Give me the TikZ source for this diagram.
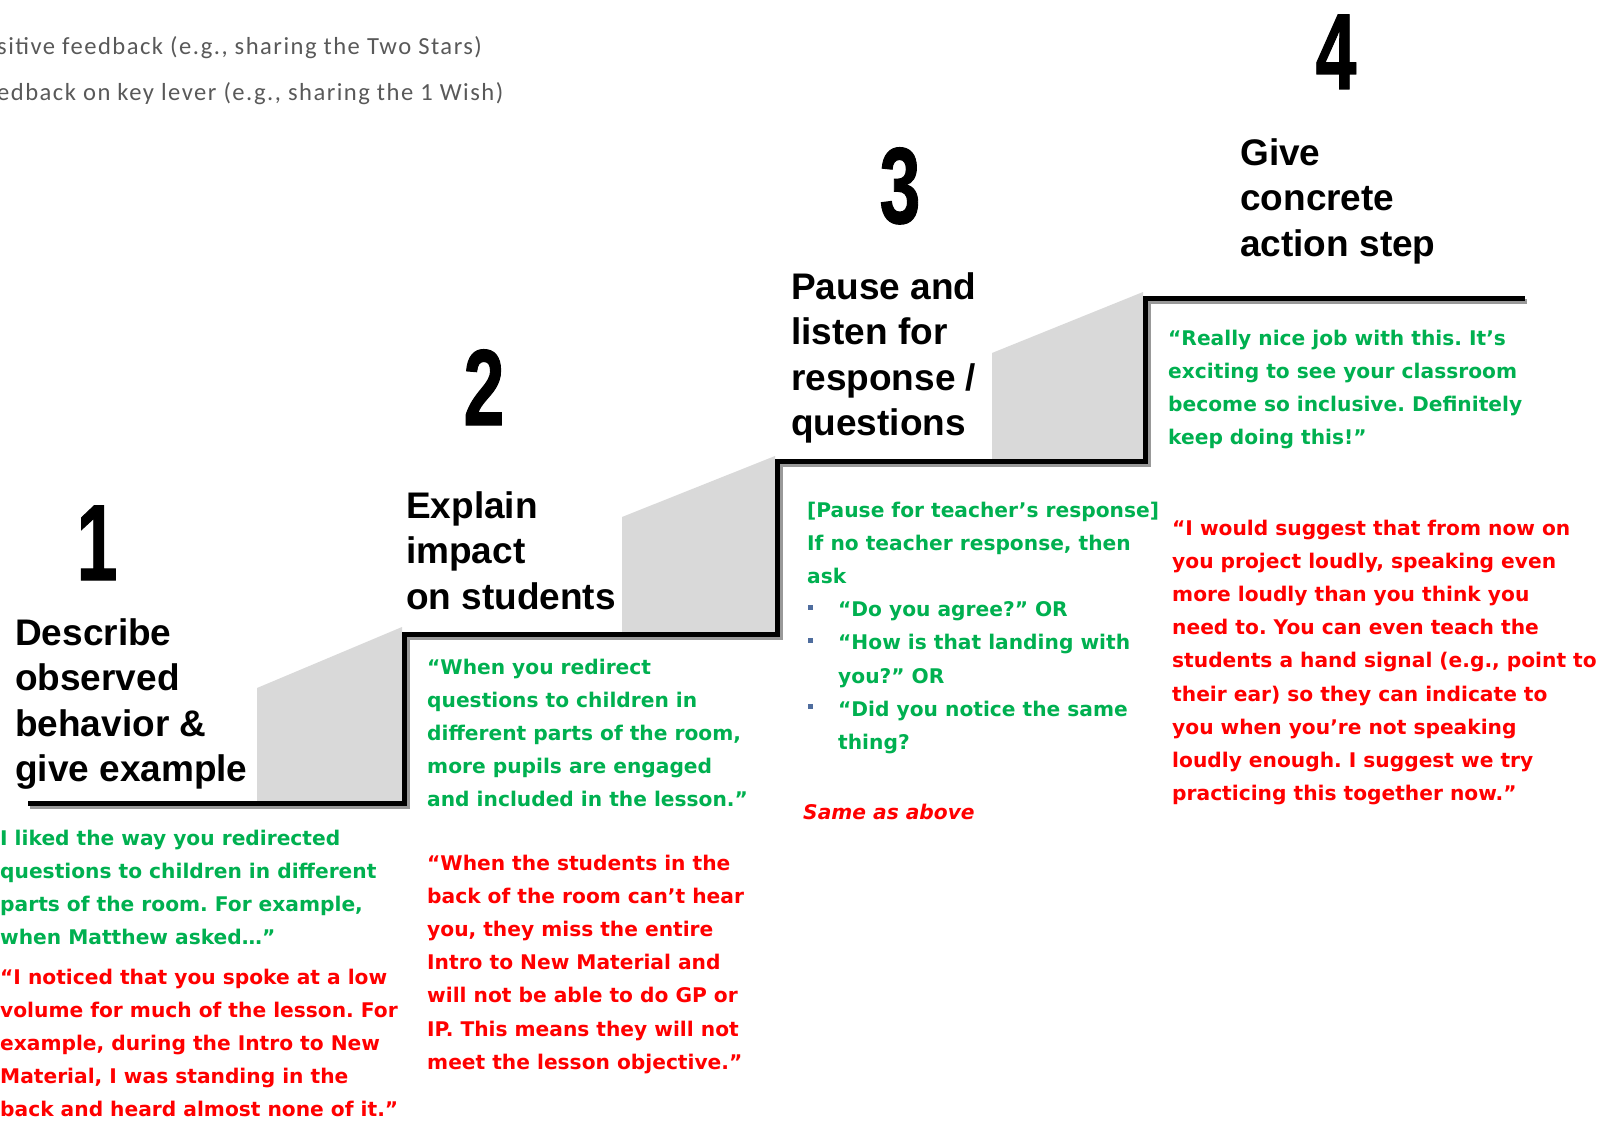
\documentclass[tikz,border=0pt]{standalone}
\usepackage{fontspec}
\usepackage{graphicx}
\setmainfont{Liberation Sans}
\newfontfamily\headfont{Liberation Sans}
\newfontfamily\numfont{Liberation Sans}[BoldFeatures={FakeBold=1.2}]
\newfontfamily\bodyfont{DejaVu Sans}
\newfontfamily\notefont{Carlito}[LetterSpace=6]
\frenchspacing

\definecolor{okgreen}{HTML}{00B050}
\definecolor{okred}{HTML}{FF0000}
\definecolor{stepgrey}{HTML}{D9D9D9}
\definecolor{notegrey}{HTML}{595959}
\definecolor{bulletblue}{HTML}{4F6D9E}

% one text block, lines set by hand, baseline on the first line
\newcommand\txtblock[1]{\begin{tabular}[t]{@{}l@{}}#1\end{tabular}}
% square list bullet with its indent
\newcommand\sqitem{\makebox[31pt][l]{\hspace{1pt}\textcolor{bulletblue}{\rule[7pt]{5pt}{5pt}}}}
\newcommand\sqcont{\hspace*{31pt}}
% condensed heavy step number
\newcommand\stepdigit[1]{\scalebox{0.68}[1]{#1}}

\tikzset{
  stairline/.style={line width=5pt, draw=black, line join=miter},
  stairshade/.style={line width=5pt, draw=black!40, line join=miter},
  riserfill/.style={fill=stepgrey, draw=none},
  heading/.style={inner sep=0pt, anchor=base west,
    font=\headfont\bfseries\fontsize{37}{45.5}\selectfont},
  stepnum/.style={inner sep=0pt, anchor=base,
    font=\numfont\bfseries\fontsize{108}{108}\selectfont},
  praise/.style={inner sep=0pt, anchor=base west, text=okgreen,
    font=\bodyfont\bfseries\fontsize{20.2}{33.2}\selectfont},
  critique/.style={praise, text=okred},
  note/.style={inner sep=0pt, anchor=base west, text=notegrey,
    font=\notefont\fontsize{24.6}{46}\selectfont}
}

\begin{document}
\begin{tikzpicture}[x=1pt,y=-1pt]
  \useasboundingbox (0,0) rectangle (1604,1121);
  \clip (0,0) rectangle (1604,1121);

  % notes at the top left
  \node[note] (notes) at (-3,55) {\txtblock{sitive feedback (e.g., sharing the Two Stars)\\
    edback on key lever (e.g., sharing the 1 Wish)}};

  % shaded faces of the steps
  \fill[riserfill] (257,688) -- (402,627) -- (402,803) -- (257,803) -- cycle;
  \fill[riserfill] (622,517) -- (775,456) -- (775,634) -- (622,634) -- cycle;
  \fill[riserfill] (992,353) -- (1143,292) -- (1143,461) -- (992,461) -- cycle;

  % the staircase outline with its soft shadow
  \draw[stairshade] (30,806) -- (407,806) -- (407,637) -- (780,637) -- (780,464)
    -- (1148,464) -- (1148,301) -- (1527,301);
  \draw[stairline] (28,803) -- (404,803) -- (404,634) -- (777,634) -- (777,461)
    -- (1145,461) -- (1145,298) -- (1525,298);

  % step numbers
  \node[stepnum] (n1) at (97,580)   {\stepdigit{1}};
  \node[stepnum] (n2) at (484,425)  {\stepdigit{2}};
  \node[stepnum] (n3) at (900,223)  {\stepdigit{3}};
  \node[stepnum] (n4) at (1336,89)  {\stepdigit{4}};

  % step titles
  \node[heading] (h1) at (15,645)   {\txtblock{Describe\\observed\\behavior \&\\give example}};
  \node[heading] (h2) at (406,518)  {\txtblock{Explain\\impact\\on students}};
  \node[heading] (h3) at (791,299)  {\txtblock{Pause and\\listen for\\response /\\questions}};
  \node[heading] (h4) at (1240,165) {\txtblock{Give\\concrete\\action step}};

  % step 1
  \node[praise] (p1) at (0,845) {\txtblock{I liked the way you redirected\\
    questions to children in different\\
    parts of the room. For example,\\
    when Matthew asked…”}};
  \node[critique] (c1) at (0,984) {\txtblock{“I noticed that you spoke at a low\\
    volume for much of the lesson. For\\
    example, during the Intro to New\\
    Material, I was standing in the\\
    back and heard almost none of it.”}};

  % step 2
  \node[praise] (p2) at (427,674) {\txtblock{“When you redirect\\
    questions to children in\\
    different parts of the room,\\
    more pupils are engaged\\
    and included in the lesson.”}};
  \node[critique] (c2) at (427,870) {\txtblock{“When the students in the\\
    back of the room can’t hear\\
    you, they miss the entire\\
    Intro to New Material and\\
    will not be able to do GP or\\
    IP. This means they will not\\
    meet the lesson objective.”}};

  % step 3
  \node[praise] (p3) at (807,517) {\txtblock{[Pause for teacher’s response]\\
    If no teacher response, then\\
    ask\\
    \sqitem “Do you agree?” OR\\
    \sqitem “How is that landing with\\
    \sqcont you?” OR\\
    \sqitem “Did you notice the same\\
    \sqcont thing?}};
  \node[critique, font=\bodyfont\bfseries\itshape\fontsize{20.2}{33.2}\selectfont] (c3)
    at (803,819) {Same as above};

  % step 4
  \node[praise] (p4) at (1168,345) {\txtblock{“Really nice job with this. It’s\\
    exciting to see your classroom\\
    become so inclusive. Definitely\\
    keep doing this!”}};
  \node[critique] (c4) at (1172,535) {\txtblock{“I would suggest that from now on\\
    you project loudly, speaking even\\
    more loudly than you think you\\
    need to. You can even teach the\\
    students a hand signal (e.g., point to\\
    their ear) so they can indicate to\\
    you when you’re not speaking\\
    loudly enough. I suggest we try\\
    practicing this together now.”}};
\end{tikzpicture}
\end{document}
